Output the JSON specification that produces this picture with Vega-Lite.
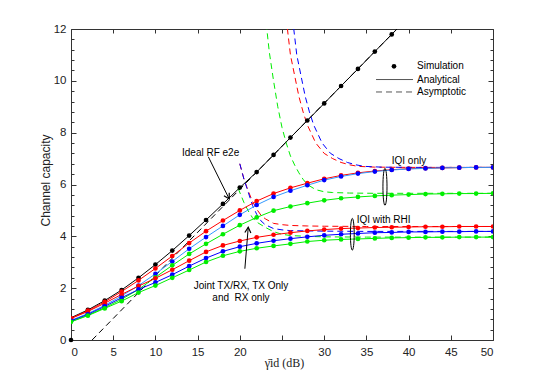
{
  "$schema": "https://vega.github.io/schema/vega-lite/v6.json",
  "width": 422,
  "height": 311,
  "autosize": {"type": "none"},
  "padding": {"left": 71, "top": 29, "right": 52, "bottom": 42},
  "background": "white",
  "config": {
    "font": "Liberation Sans",
    "view": {"stroke": "#333", "strokeWidth": 1},
    "axis": {"domain": false, "grid": false, "tickColor": "#333", "labelColor": "#222", "labelFont": "Liberation Sans", "labelFontSize": 11.5, "titleColor": "#222"}
  },
  "resolve": {"axis": {"x": "independent", "y": "independent"}},
  "datasets": {
    "curves": [
      {"series":"Ideal","x":0,"y":0.86},{"series":"Ideal","x":2,"y":1.16},{"series":"Ideal","x":4,"y":1.52},{"series":"Ideal","x":6,"y":1.93},{"series":"Ideal","x":8,"y":2.40},{"series":"Ideal","x":10,"y":2.91},{"series":"Ideal","x":12,"y":3.45},{"series":"Ideal","x":14,"y":4.03},{"series":"Ideal","x":16,"y":4.63},{"series":"Ideal","x":18,"y":5.25},{"series":"Ideal","x":20,"y":5.88},{"series":"Ideal","x":22,"y":6.48},{"series":"Ideal","x":24,"y":7.14},{"series":"Ideal","x":26,"y":7.81},{"series":"Ideal","x":28,"y":8.47},{"series":"Ideal","x":30,"y":9.13},{"series":"Ideal","x":32,"y":9.80},{"series":"Ideal","x":34,"y":10.46},{"series":"Ideal","x":36,"y":11.13},{"series":"Ideal","x":38,"y":11.79},{"series":"Ideal","x":40,"y":12.46},
      {"series":"IQI-R","x":0,"y":0.84},{"series":"IQI-R","x":2,"y":1.13},{"series":"IQI-R","x":4,"y":1.47},{"series":"IQI-R","x":6,"y":1.87},{"series":"IQI-R","x":8,"y":2.30},{"series":"IQI-R","x":10,"y":2.76},{"series":"IQI-R","x":12,"y":3.24},{"series":"IQI-R","x":14,"y":3.74},{"series":"IQI-R","x":16,"y":4.20},{"series":"IQI-R","x":18,"y":4.61},{"series":"IQI-R","x":20,"y":5.00},{"series":"IQI-R","x":22,"y":5.36},{"series":"IQI-R","x":24,"y":5.65},{"series":"IQI-R","x":26,"y":5.87},{"series":"IQI-R","x":28,"y":6.05},{"series":"IQI-R","x":30,"y":6.22},{"series":"IQI-R","x":32,"y":6.35},{"series":"IQI-R","x":34,"y":6.45},{"series":"IQI-R","x":36,"y":6.52},{"series":"IQI-R","x":38,"y":6.57},{"series":"IQI-R","x":40,"y":6.61},{"series":"IQI-R","x":42,"y":6.63},{"series":"IQI-R","x":44,"y":6.64},{"series":"IQI-R","x":46,"y":6.65},{"series":"IQI-R","x":48,"y":6.66},{"series":"IQI-R","x":50,"y":6.66},
      {"series":"IQI-B","x":0,"y":0.76},{"series":"IQI-B","x":2,"y":1.02},{"series":"IQI-B","x":4,"y":1.34},{"series":"IQI-B","x":6,"y":1.70},{"series":"IQI-B","x":8,"y":2.10},{"series":"IQI-B","x":10,"y":2.55},{"series":"IQI-B","x":12,"y":3.03},{"series":"IQI-B","x":14,"y":3.52},{"series":"IQI-B","x":16,"y":3.97},{"series":"IQI-B","x":18,"y":4.40},{"series":"IQI-B","x":20,"y":4.83},{"series":"IQI-B","x":22,"y":5.21},{"series":"IQI-B","x":24,"y":5.52},{"series":"IQI-B","x":26,"y":5.76},{"series":"IQI-B","x":28,"y":5.97},{"series":"IQI-B","x":30,"y":6.17},{"series":"IQI-B","x":32,"y":6.31},{"series":"IQI-B","x":34,"y":6.42},{"series":"IQI-B","x":36,"y":6.50},{"series":"IQI-B","x":38,"y":6.56},{"series":"IQI-B","x":40,"y":6.60},{"series":"IQI-B","x":42,"y":6.62},{"series":"IQI-B","x":44,"y":6.64},{"series":"IQI-B","x":46,"y":6.65},{"series":"IQI-B","x":48,"y":6.66},{"series":"IQI-B","x":50,"y":6.66},
      {"series":"IQI-G","x":0,"y":0.71},{"series":"IQI-G","x":2,"y":0.96},{"series":"IQI-G","x":4,"y":1.25},{"series":"IQI-G","x":6,"y":1.57},{"series":"IQI-G","x":8,"y":1.95},{"series":"IQI-G","x":10,"y":2.42},{"series":"IQI-G","x":12,"y":2.88},{"series":"IQI-G","x":14,"y":3.32},{"series":"IQI-G","x":16,"y":3.71},{"series":"IQI-G","x":18,"y":4.08},{"series":"IQI-G","x":20,"y":4.43},{"series":"IQI-G","x":22,"y":4.73},{"series":"IQI-G","x":24,"y":4.99},{"series":"IQI-G","x":26,"y":5.15},{"series":"IQI-G","x":28,"y":5.28},{"series":"IQI-G","x":30,"y":5.39},{"series":"IQI-G","x":32,"y":5.47},{"series":"IQI-G","x":34,"y":5.52},{"series":"IQI-G","x":36,"y":5.56},{"series":"IQI-G","x":38,"y":5.59},{"series":"IQI-G","x":40,"y":5.61},{"series":"IQI-G","x":42,"y":5.63},{"series":"IQI-G","x":44,"y":5.64},{"series":"IQI-G","x":46,"y":5.65},{"series":"IQI-G","x":48,"y":5.65},{"series":"IQI-G","x":50,"y":5.66},
      {"series":"RHI-R","x":0,"y":0.83},{"series":"RHI-R","x":2,"y":1.10},{"series":"RHI-R","x":4,"y":1.42},{"series":"RHI-R","x":6,"y":1.76},{"series":"RHI-R","x":8,"y":2.08},{"series":"RHI-R","x":10,"y":2.38},{"series":"RHI-R","x":12,"y":2.71},{"series":"RHI-R","x":14,"y":3.06},{"series":"RHI-R","x":16,"y":3.40},{"series":"RHI-R","x":18,"y":3.65},{"series":"RHI-R","x":20,"y":3.82},{"series":"RHI-R","x":22,"y":3.96},{"series":"RHI-R","x":24,"y":4.06},{"series":"RHI-R","x":26,"y":4.14},{"series":"RHI-R","x":28,"y":4.21},{"series":"RHI-R","x":30,"y":4.26},{"series":"RHI-R","x":32,"y":4.30},{"series":"RHI-R","x":34,"y":4.32},{"series":"RHI-R","x":36,"y":4.34},{"series":"RHI-R","x":38,"y":4.35},{"series":"RHI-R","x":40,"y":4.36},{"series":"RHI-R","x":42,"y":4.37},{"series":"RHI-R","x":44,"y":4.37},{"series":"RHI-R","x":46,"y":4.38},{"series":"RHI-R","x":48,"y":4.38},{"series":"RHI-R","x":50,"y":4.38},
      {"series":"RHI-B","x":0,"y":0.74},{"series":"RHI-B","x":2,"y":0.99},{"series":"RHI-B","x":4,"y":1.30},{"series":"RHI-B","x":6,"y":1.63},{"series":"RHI-B","x":8,"y":1.95},{"series":"RHI-B","x":10,"y":2.22},{"series":"RHI-B","x":12,"y":2.52},{"series":"RHI-B","x":14,"y":2.85},{"series":"RHI-B","x":16,"y":3.16},{"series":"RHI-B","x":18,"y":3.42},{"series":"RHI-B","x":20,"y":3.60},{"series":"RHI-B","x":22,"y":3.73},{"series":"RHI-B","x":24,"y":3.83},{"series":"RHI-B","x":26,"y":3.91},{"series":"RHI-B","x":28,"y":3.98},{"series":"RHI-B","x":30,"y":4.04},{"series":"RHI-B","x":32,"y":4.08},{"series":"RHI-B","x":34,"y":4.11},{"series":"RHI-B","x":36,"y":4.14},{"series":"RHI-B","x":38,"y":4.15},{"series":"RHI-B","x":40,"y":4.17},{"series":"RHI-B","x":42,"y":4.17},{"series":"RHI-B","x":44,"y":4.18},{"series":"RHI-B","x":46,"y":4.18},{"series":"RHI-B","x":48,"y":4.19},{"series":"RHI-B","x":50,"y":4.19},
      {"series":"RHI-G","x":0,"y":0.70},{"series":"RHI-G","x":2,"y":0.94},{"series":"RHI-G","x":4,"y":1.22},{"series":"RHI-G","x":6,"y":1.50},{"series":"RHI-G","x":8,"y":1.83},{"series":"RHI-G","x":10,"y":2.10},{"series":"RHI-G","x":12,"y":2.40},{"series":"RHI-G","x":14,"y":2.70},{"series":"RHI-G","x":16,"y":3.01},{"series":"RHI-G","x":18,"y":3.25},{"series":"RHI-G","x":20,"y":3.42},{"series":"RHI-G","x":22,"y":3.54},{"series":"RHI-G","x":24,"y":3.63},{"series":"RHI-G","x":26,"y":3.71},{"series":"RHI-G","x":28,"y":3.80},{"series":"RHI-G","x":30,"y":3.85},{"series":"RHI-G","x":32,"y":3.88},{"series":"RHI-G","x":34,"y":3.90},{"series":"RHI-G","x":36,"y":3.92},{"series":"RHI-G","x":38,"y":3.94},{"series":"RHI-G","x":40,"y":3.95},{"series":"RHI-G","x":42,"y":3.96},{"series":"RHI-G","x":44,"y":3.96},{"series":"RHI-G","x":46,"y":3.97},{"series":"RHI-G","x":48,"y":3.97},{"series":"RHI-G","x":50,"y":3.97}
    ],
    "asym": [
      {"series":"Ideal","x":2.5,"y":0},{"series":"Ideal","x":40,"y":12.46},
      {"series":"IQI-R","x":25.5,"y":12.4},{"series":"IQI-R","x":26,"y":11.0},{"series":"IQI-R","x":26.5,"y":10.2},{"series":"IQI-R","x":27,"y":9.4},{"series":"IQI-R","x":27.5,"y":8.8},{"series":"IQI-R","x":28,"y":8.3},{"series":"IQI-R","x":29,"y":7.6},{"series":"IQI-R","x":30,"y":7.2},{"series":"IQI-R","x":31,"y":7.0},{"series":"IQI-R","x":32,"y":6.85},{"series":"IQI-R","x":33,"y":6.76},{"series":"IQI-R","x":34,"y":6.7},{"series":"IQI-R","x":36,"y":6.67},{"series":"IQI-R","x":40,"y":6.66},{"series":"IQI-R","x":50,"y":6.66},
      {"series":"IQI-Ba","x":26.25,"y":12.4},{"series":"IQI-Ba","x":26.75,"y":11.0},{"series":"IQI-Ba","x":27.25,"y":10.2},{"series":"IQI-Ba","x":27.75,"y":9.4},{"series":"IQI-Ba","x":28.25,"y":8.8},{"series":"IQI-Ba","x":28.75,"y":8.3},{"series":"IQI-Ba","x":29.75,"y":7.6},{"series":"IQI-Ba","x":30.75,"y":7.2},{"series":"IQI-Ba","x":31.75,"y":7.0},{"series":"IQI-Ba","x":32.75,"y":6.85},{"series":"IQI-Ba","x":33.75,"y":6.76},{"series":"IQI-Ba","x":34.75,"y":6.7},{"series":"IQI-Ba","x":36.75,"y":6.67},{"series":"IQI-Ba","x":40,"y":6.66},{"series":"IQI-Ba","x":50,"y":6.66},
      {"series":"IQI-G","x":23.0,"y":12.6},{"series":"IQI-G","x":23.5,"y":11.1},{"series":"IQI-G","x":24,"y":10.0},{"series":"IQI-G","x":24.5,"y":9.0},{"series":"IQI-G","x":25,"y":8.2},{"series":"IQI-G","x":25.5,"y":7.6},{"series":"IQI-G","x":26,"y":7.1},{"series":"IQI-G","x":26.5,"y":6.75},{"series":"IQI-G","x":27,"y":6.45},{"series":"IQI-G","x":27.5,"y":6.2},{"series":"IQI-G","x":28,"y":6.0},{"series":"IQI-G","x":29,"y":5.8},{"series":"IQI-G","x":30,"y":5.72},{"series":"IQI-G","x":31,"y":5.69},{"series":"IQI-G","x":33,"y":5.67},{"series":"IQI-G","x":36,"y":5.66},{"series":"IQI-G","x":50,"y":5.66},
      {"series":"RHI-R","x":20,"y":6.8},{"series":"RHI-R","x":20.5,"y":6.2},{"series":"RHI-R","x":21,"y":5.75},{"series":"RHI-R","x":21.5,"y":5.35},{"series":"RHI-R","x":22,"y":5.05},{"series":"RHI-R","x":22.5,"y":4.82},{"series":"RHI-R","x":23,"y":4.68},{"series":"RHI-R","x":24,"y":4.5},{"series":"RHI-R","x":25,"y":4.45},{"series":"RHI-R","x":26,"y":4.42},{"series":"RHI-R","x":28,"y":4.4},{"series":"RHI-R","x":30,"y":4.39},{"series":"RHI-R","x":35,"y":4.38},{"series":"RHI-R","x":50,"y":4.38},
      {"series":"RHI-B","x":20,"y":6.8},{"series":"RHI-B","x":20.5,"y":6.2},{"series":"RHI-B","x":21,"y":5.7},{"series":"RHI-B","x":21.5,"y":5.2},{"series":"RHI-B","x":22,"y":4.85},{"series":"RHI-B","x":22.5,"y":4.6},{"series":"RHI-B","x":23,"y":4.45},{"series":"RHI-B","x":24,"y":4.3},{"series":"RHI-B","x":25,"y":4.25},{"series":"RHI-B","x":26,"y":4.22},{"series":"RHI-B","x":28,"y":4.21},{"series":"RHI-B","x":30,"y":4.2},{"series":"RHI-B","x":35,"y":4.19},{"series":"RHI-B","x":50,"y":4.19},
      {"series":"RHI-G","x":19.8,"y":5.85},{"series":"RHI-G","x":20.5,"y":5.3},{"series":"RHI-G","x":21,"y":4.98},{"series":"RHI-G","x":21.5,"y":4.72},{"series":"RHI-G","x":22,"y":4.55},{"series":"RHI-G","x":23,"y":4.35},{"series":"RHI-G","x":24,"y":4.18},{"series":"RHI-G","x":25,"y":4.08},{"series":"RHI-G","x":26,"y":4.03},{"series":"RHI-G","x":28,"y":4.0},{"series":"RHI-G","x":30,"y":3.98},{"series":"RHI-G","x":35,"y":3.97},{"series":"RHI-G","x":50,"y":3.97}
    ],
    "extra": [{"series":"Ideal","x":0,"y":0}],
    "one": [{}]
  },
  "layer": [
    {
      "data": {"name": "asym"},
      "mark": {"type": "line", "strokeDash": [6, 4], "strokeWidth": 1, "clip": true},
      "encoding": {
        "x": {"field": "x", "type": "quantitative", "scale": {"domain": [0, 50], "nice": false}, "axis": {"orient": "top", "values": [0,5,10,15,20,25,30,35,40,45,50], "labels": false, "tickSize": -4, "title": null}},
        "y": {"field": "y", "type": "quantitative", "scale": {"domain": [0, 12], "nice": false}, "axis": {"orient": "right", "values": [0,2,4,6,8,10,12], "labels": false, "tickSize": -5, "title": null}},
        "stroke": {"field": "series", "type": "nominal", "legend": null, "scale": {"domain": ["Ideal","IQI-R","IQI-B","IQI-G","RHI-R","RHI-B","RHI-G","IQI-Ba"], "range": ["#000000","#ff0000","#3399ff","#00ee00","#ff0000","#0000ff","#00ee00","#0000ff"]}}
      }
    },
    {
      "data": {"name": "curves"},
      "mark": {"type": "line", "strokeWidth": 1, "clip": true},
      "encoding": {
        "x": {"field": "x", "type": "quantitative", "axis": {"orient": "bottom", "values": [0,5,10,15,20,25,30,35,40,45,50], "labelExpr": "datum.value == 25 ? '' : datum.label", "tickSize": -5, "labelPadding": 11, "title": "γ̄id (dB)", "titleFont": "Liberation Serif", "titleFontSize": 12, "titleFontWeight": "normal", "titleX": 213, "titleY": 22, "titleBaseline": "middle"}},
        "y": {"field": "y", "type": "quantitative", "axis": {"orient": "left", "values": [0,2,4,6,8,10,12], "tickSize": -5, "labelPadding": 10, "title": "Channel capacity", "titleFont": "Liberation Sans", "titleFontSize": 12, "titleFontWeight": "normal", "titleX": -26, "titleY": 151, "titleAngle": -90, "titleAlign": "center", "titleBaseline": "middle"}},
        "stroke": {"field": "series", "type": "nominal", "legend": null}
      }
    },
    {
      "data": {"name": "curves"},
      "transform": [{"filter": "datum.series != 'Ideal' || datum.x > 0"}],
      "mark": {"type": "point", "filled": true, "size": 22, "opacity": 1, "clip": true},
      "encoding": {
        "x": {"field": "x", "type": "quantitative", "axis": null},
        "y": {"field": "y", "type": "quantitative", "axis": {"orient": "left", "values": [0.4,0.8,1.2,1.6,2.4,2.8,3.2,3.6,4.4,4.8,5.2,5.6,6.4,6.8,7.2,7.6,8.4,8.8,9.2,9.6,10.4,10.8,11.2,11.6], "labels": false, "tickSize": -3, "title": null}},
        "fill": {"field": "series", "type": "nominal", "legend": null, "scale": {"domain": ["Ideal","IQI-R","IQI-B","IQI-G","RHI-R","RHI-B","RHI-G"], "range": ["#000000","#ff0000","#0000ff","#00ee00","#ff0000","#0000ff","#00ee00"]}}
      }
    },
    {
      "data": {"name": "extra"},
      "mark": {"type": "point", "filled": true, "size": 22, "color": "#000000", "opacity": 1},
      "encoding": {
        "x": {"field": "x", "type": "quantitative", "axis": null},
        "y": {"field": "y", "type": "quantitative", "axis": {"orient": "right", "values": [0.4,0.8,1.2,1.6,2.4,2.8,3.2,3.6,4.4,4.8,5.2,5.6,6.4,6.8,7.2,7.6,8.4,8.8,9.2,9.6,10.4,10.8,11.2,11.6], "labels": false, "tickSize": -3, "title": null}}
      }
    },
    {
      "data": {"name": "one"},
      "mark": {"type": "text", "text": "Ideal RF e2e", "align": "left", "baseline": "middle", "fontSize": 10, "color": "#000"},
      "encoding": {"x": {"datum": 13.15, "type": "quantitative", "axis": null}, "y": {"datum": 7.22, "type": "quantitative", "axis": null}}
    },
    {
      "data": {"name": "one"},
      "mark": {"type": "text", "text": "IQI only", "align": "left", "baseline": "middle", "fontSize": 10, "color": "#000"},
      "encoding": {"x": {"datum": 38.0, "type": "quantitative", "axis": null}, "y": {"datum": 6.91, "type": "quantitative", "axis": null}}
    },
    {
      "data": {"name": "one"},
      "mark": {"type": "text", "text": "IQI with RHI", "align": "left", "baseline": "middle", "fontSize": 10, "color": "#000"},
      "encoding": {"x": {"datum": 33.85, "type": "quantitative", "axis": null}, "y": {"datum": 4.63, "type": "quantitative", "axis": null}}
    },
    {
      "data": {"name": "one"},
      "mark": {"type": "text", "text": ["Joint TX/RX, TX Only", "and\u00a0 RX only"], "lineHeight": 12.5, "align": "center", "baseline": "middle", "fontSize": 10, "color": "#000"},
      "encoding": {"x": {"datum": 20.14, "type": "quantitative", "axis": null}, "y": {"datum": 2.1, "type": "quantitative", "axis": null}}
    },
    {
      "data": {"name": "one"},
      "mark": {"type": "rule", "color": "#000", "strokeWidth": 1},
      "encoding": {"x": {"datum": 16.27, "type": "quantitative", "axis": null}, "x2": {"datum": 18.75}, "y": {"datum": 7.07, "type": "quantitative", "axis": null}, "y2": {"datum": 5.44}}
    },
    {
      "data": {"name": "one"},
      "mark": {"type": "point", "shape": "M-0.55,-1L0,0L0.55,-1", "filled": false, "stroke": "#000", "strokeWidth": 1.2, "size": 120, "angle": 331, "opacity": 1},
      "encoding": {"x": {"datum": 18.75, "type": "quantitative", "axis": null}, "y": {"datum": 5.44, "type": "quantitative", "axis": null}}
    },
    {
      "data": {"name": "one"},
      "mark": {"type": "rule", "color": "#000", "strokeWidth": 1},
      "encoding": {"x": {"datum": 20.6, "type": "quantitative", "axis": null}, "x2": {"datum": 21.0}, "y": {"datum": 2.75, "type": "quantitative", "axis": null}, "y2": {"datum": 4.35}}
    },
    {
      "data": {"name": "one"},
      "mark": {"type": "point", "shape": "M-0.55,-1L0,0L0.55,-1", "filled": false, "stroke": "#000", "strokeWidth": 1.2, "size": 120, "angle": 184, "opacity": 1},
      "encoding": {"x": {"datum": 21.0, "type": "quantitative", "axis": null}, "y": {"datum": 4.35, "type": "quantitative", "axis": null}}
    },
    {
      "data": {"name": "one"},
      "mark": {"type": "point", "shape": "M0,-1A0.11,1,0,1,1,0,1A0.11,1,0,1,1,0,-1Z", "filled": false, "stroke": "#000", "strokeWidth": 1, "size": 1369, "opacity": 1},
      "encoding": {"x": {"datum": 37.2, "type": "quantitative", "axis": null}, "y": {"datum": 5.91, "type": "quantitative", "axis": null}}
    },
    {
      "data": {"name": "one"},
      "mark": {"type": "point", "shape": "M0,-1A0.12,1,0,1,1,0,1A0.12,1,0,1,1,0,-1Z", "filled": false, "stroke": "#000", "strokeWidth": 1, "size": 1005, "opacity": 1},
      "encoding": {"x": {"datum": 33.33, "type": "quantitative", "axis": null}, "y": {"datum": 4.08, "type": "quantitative", "axis": null}}
    },
    {
      "data": {"name": "one"},
      "mark": {"type": "point", "filled": true, "size": 22, "color": "#000", "opacity": 1},
      "encoding": {"x": {"datum": 38.27, "type": "quantitative", "axis": null}, "y": {"datum": 10.56, "type": "quantitative", "axis": null}}
    },
    {
      "data": {"name": "one"},
      "mark": {"type": "rule", "color": "#555", "strokeWidth": 1},
      "encoding": {"x": {"datum": 36.14, "type": "quantitative", "axis": null}, "x2": {"datum": 40.52}, "y": {"datum": 10.05, "type": "quantitative", "axis": null}}
    },
    {
      "data": {"name": "one"},
      "mark": {"type": "rule", "color": "#555", "strokeWidth": 1, "strokeDash": [6, 4]},
      "encoding": {"x": {"datum": 36.14, "type": "quantitative", "axis": null}, "x2": {"datum": 40.52}, "y": {"datum": 9.57, "type": "quantitative", "axis": null}}
    },
    {
      "data": {"name": "one"},
      "mark": {"type": "text", "text": "Simulation", "align": "left", "baseline": "middle", "fontSize": 10, "color": "#000"},
      "encoding": {"x": {"datum": 41.0, "type": "quantitative", "axis": null}, "y": {"datum": 10.56, "type": "quantitative", "axis": null}}
    },
    {
      "data": {"name": "one"},
      "mark": {"type": "text", "text": "Analytical", "align": "left", "baseline": "middle", "fontSize": 10, "color": "#000"},
      "encoding": {"x": {"datum": 41.0, "type": "quantitative", "axis": null}, "y": {"datum": 10.05, "type": "quantitative", "axis": null}}
    },
    {
      "data": {"name": "one"},
      "mark": {"type": "text", "text": "Asymptotic", "align": "left", "baseline": "middle", "fontSize": 10, "color": "#000"},
      "encoding": {"x": {"datum": 41.0, "type": "quantitative", "axis": null}, "y": {"datum": 9.57, "type": "quantitative", "axis": null}}
    }
  ]
}
